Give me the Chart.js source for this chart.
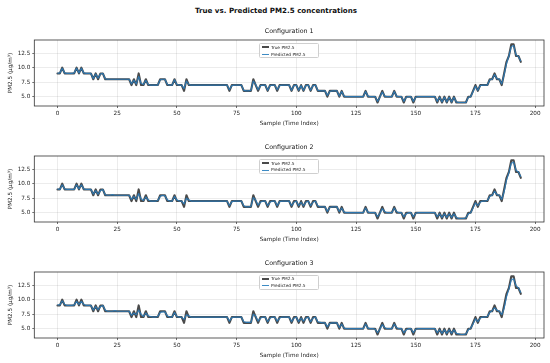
<!DOCTYPE html>
<html><head><meta charset="utf-8">
<script src="https://cdn.jsdelivr.net/npm/chart.js@4.4.1/dist/chart.umd.min.js"></script>
<style>
html,body{margin:0;padding:0;background:#fff;}
body{width:550px;height:363px;position:relative;overflow:hidden;font-family:"DejaVu Sans",sans-serif;}
#sup{position:absolute;left:0;width:552px;top:5.5px;text-align:center;font-weight:bold;font-size:7.1px;line-height:9px;color:#111;white-space:nowrap;}
.panel{position:absolute;left:0;width:550px;height:106px;}
.panel canvas{position:absolute;left:0;top:0;}
.legend{position:absolute;left:259.3px;top:18px;width:60px;height:15px;border:0.6px solid #cfcfcf;border-radius:1.5px;background:rgba(255,255,255,0.85);box-sizing:border-box;font-size:4.3px;color:#222;}
.legend .row{position:absolute;left:0;height:5px;width:60px;}
.legend .h{position:absolute;left:2.2px;width:6.8px;top:2px;}
.legend .t{position:absolute;left:10.6px;top:0;line-height:5px;white-space:nowrap;}
</style>
</head><body>
<div id="sup">True vs. Predicted PM2.5 concentrations</div>
<script>
const mainTitle = 'True vs. Predicted PM2.5 concentrations';
const configNames = ['Configuration 1', 'Configuration 2', 'Configuration 3'];
const seriesNames = ['True PM2.5', 'Predicted PM2.5'];
const xTicks = [0, 25, 50, 75, 100, 125, 150, 175, 200];
const yTicks = [5.0, 7.5, 10.0, 12.5];
const xTitle = 'Sample (Time Index)';
const yTitle = 'PM2.5 (\u00b5g/m\u00b3)';

const trueVals = [
 9,9,10,9,9,9,9,9,10,9,
 10,9,9,9,9,8,9,8,9,9,
 8,8,8,8,8,8,8,8,8,8,
 8,7,8,7,9,7,7,8,7,7,
 7,7,7,8,8,8,7,7,7,8,
 7,7,7,6,8,7,7,7,7,7,
 7,7,7,7,7,7,7,7,7,7,
 7,7,6,7,7,7,7,7,6,6,
 6,6,8,7,6,7,7,7,6,7,
 7,7,6,7,7,7,7,7,6,7,
 7,6,7,6,7,7,6,7,7,6,
 6,6,6,5,6,6,6,6,5,6,
 5,5,5,5,5,5,5,5,5,6,
 5,5,5,5,4,5,6,5,5,5,
 5,6,5,5,5,4,5,5,5,4,
 5,5,5,5,5,5,5,5,5,4,
 5,4,5,4,5,4,5,4,4,4,
 4,4,5,5,6,7,6,7,7,7,
 7,8,8,9,8,8,7,9,11,12,
 14,14,12,12,11];

const pred1 = [
 9,9.1,9.9,9.1,9,9,9,9.1,9.9,9.1,
 9.9,9.1,9,9,9,8.1,8.9,8.2,8.9,9,
 8.1,8,8,8,8,8,8,8,8,8,
 8,7.2,7.8,7.2,8.5,7.3,7.1,7.8,7.1,7,
 7,7,7,7.9,8,8,7.1,7,7,7.9,
 7.1,7,7,6.4,7.7,7.1,7,7,7,7,
 7,7,7,7,7,7,7,7,7,7,
 7,7,6.2,6.9,7,7,7,7,6.1,6,
 6,6.1,7.7,7.1,6.2,6.9,7,7,6.1,6.9,
 7,7,6.2,6.9,7,7,7,7,6.1,6.9,
 7,6.1,6.9,6.1,6.9,7,6.1,6.9,7,6.1,
 6,6,6,5.2,5.9,6,6,6,5.1,5.9,
 5.1,5,5,5,5,5,5,5,5,5.9,
 5.1,5,5,5,4.2,4.9,5.8,5.1,5,5,
 5,5.9,5.1,5,5,4.2,4.9,5,5,4.2,
 4.9,5,5,5,5,5,5,5,5,4.2,
 4.9,4.1,4.9,4.1,4.9,4.1,4.9,4.1,4,4,
 4,4,4.9,5,5.9,6.8,6.1,6.9,7,7,
 7,7.9,8,8.8,8.1,8,7.2,8.8,10.7,12,
 13.6,13.8,12.2,11.9,11.1];

const pred2 = [
 9.1,9,9.8,9.1,9,9,9,9,9.8,9.1,
 9.8,9.1,9,9,9,8.2,8.8,8.2,8.8,9,
 8.1,8,8,8.1,8,8,8,8,8,8,
 8,7.3,7.8,7.3,8.3,7.4,7.1,7.7,7.2,7,
 7,7,7.1,7.8,8,7.9,7.2,7,7,7.8,
 7.2,7,7,6.5,7.5,7.2,7,7,7,7,
 7,7,7,7,7,7,7,7,7,7,
 7,7,6.2,6.9,7,7,7,7,6.2,6,
 6,6.1,7.6,7.2,6.3,6.8,7,7,6.2,6.8,
 7,7,6.2,6.9,7,7,7,7,6.2,6.8,
 7,6.2,6.8,6.2,6.8,7,6.2,6.8,7,6.2,
 6,6,6,5.2,5.9,6,6,6,5.2,5.8,
 5.1,5,5,5,5,5,5,5,5,5.8,
 5.1,5,5,5,4.3,4.9,5.7,5.2,5,5,
 5,5.8,5.2,5,5,4.3,4.8,5,5,4.3,
 4.9,5,5,5,5,5,5,5,5,4.3,
 4.8,4.2,4.8,4.2,4.8,4.2,4.8,4.2,4,4,
 4,4.1,4.8,5,5.8,6.7,6.2,6.8,7,7,
 7.1,7.8,8,8.7,8.1,8,7.3,8.6,10.6,11.9,
 13.5,13.7,12.3,12,11.2];

const pred3 = [
 9.1,9.1,9.8,9.2,9,9,9,9.1,9.7,9.2,
 9.7,9.2,9,9,9,8.2,8.8,8.3,8.8,9,
 8.2,8,8,8,8.1,8,8,8,8,8,
 8,7.3,7.7,7.4,8.2,7.5,7.1,7.7,7.2,7.1,
 7,7,7.1,7.8,7.9,7.9,7.2,7,7,7.8,
 7.1,7,7,6.6,7.4,7.2,7,7,7,7,
 7,7,7,7,7,7,7,7,7,7,
 7,7,6.3,6.9,7,7,7,7,6.2,6.1,
 6.1,6.1,7.5,7.2,6.3,6.8,7,7,6.2,6.8,
 7,7,6.3,6.8,7,7,7,7,6.2,6.8,
 7,6.2,6.8,6.3,6.8,7,6.2,6.8,7,6.2,
 6.1,6,6,5.3,5.9,6,6,6,5.2,5.8,
 5.1,5,5,5,5,5,5,5,5,5.8,
 5.1,5,5,4.9,4.3,4.9,5.7,5.2,5,5,
 5,5.8,5.2,5,5,4.3,4.8,5,5,4.3,
 4.9,5,5,5,5,5,5,5,5,4.3,
 4.8,4.2,4.8,4.2,4.8,4.2,4.8,4.2,4.1,4,
 4,4.1,4.8,5.1,5.8,6.7,6.2,6.8,7,7,
 7.1,7.8,8.1,8.6,8.2,8,7.4,8.5,10.5,11.8,
 13.4,13.6,12.4,12,11.2];

const predSets = [pred1, pred2, pred3];
const panelTops = [25, 140.85, 256.7];

const FONT = 'DejaVu Sans';
const framePlugin = {
  id: 'frame',
  afterDatasetsDraw(chart) {
    const {ctx, chartArea: a} = chart;
    ctx.save();
    ctx.strokeStyle = '#333';
    ctx.lineWidth = 0.8;
    ctx.strokeRect(a.left, a.top, a.right - a.left, a.bottom - a.top);
    ctx.restore();
  }
};

function toPoints(vals) { return vals.map((v, i) => ({x: i, y: v})); }

configNames.forEach((name, k) => {
  const panel = document.createElement('div');
  panel.className = 'panel';
  panel.style.top = panelTops[k] + 'px';
  const cv = document.createElement('canvas');
  cv.width = 550; cv.height = 106;
  panel.appendChild(cv);
  const lg = document.createElement('div');
  lg.className = 'legend';
  lg.innerHTML =
    '<div class="row" style="top:0.8px"><div class="h" style="height:1.6px;top:1.7px;background:#4a4a4a"></div><div class="t">' + seriesNames[0] + '</div></div>' +
    '<div class="row" style="top:7.6px"><div class="h" style="height:0.9px;top:2.1px;background:#3d8bc4"></div><div class="t">' + seriesNames[1] + '</div></div>';
  panel.appendChild(lg);
  document.body.appendChild(panel);

  new Chart(cv, {
    type: 'line',
    data: {
      datasets: [
        { label: seriesNames[0], data: toPoints(trueVals), borderColor: '#4a4a4a', borderWidth: 2.1,
          pointRadius: 0, tension: 0, borderJoinStyle: 'round', borderCapStyle: 'round', order: 2 },
        { label: seriesNames[1], data: toPoints(predSets[k]), borderColor: 'rgba(40,125,190,0.85)', borderWidth: 1.2,
          pointRadius: 0, tension: 0, borderJoinStyle: 'round', order: 1 }
      ]
    },
    options: {
      responsive: false, animation: false, devicePixelRatio: 1,
      layout: { padding: { top: 0, left: 0, right: 6, bottom: 0 } },
      plugins: {
        legend: { display: false },
        tooltip: { enabled: false },
        title: { display: true, text: name, fullSize: false, color: '#111',
          font: { family: FONT, size: 6.3, weight: 'normal' }, padding: { top: 2.7, bottom: 4.74 } }
      },
      scales: {
        x: {
          type: 'linear', min: -9.7, max: 203.7,
          afterBuildTicks: s => { s.ticks = xTicks.map(v => ({ value: v })); },
          afterFit: s => { s.height = 25; },
          border: { display: false },
          grid: { color: 'rgba(0,0,0,0.13)', lineWidth: 0.6, borderDash: [2, 2], tickColor: '#333',
            tickLength: 2, tickWidth: 0.7, tickBorderDash: [] },
          ticks: { font: { family: FONT, size: 5.7 }, color: '#222', padding: 2, maxRotation: 0, autoSkip: false,
            callback: v => String(v) },
          title: { display: true, text: xTitle, color: '#222', font: { family: FONT, size: 5.7 },
            padding: { top: 0, bottom: 4.1 } }
        },
        y: {
          min: 3.4, max: 14.75,
          afterBuildTicks: s => { s.ticks = yTicks.map(v => ({ value: v })); },
          afterFit: s => { s.width = 34.3; },
          border: { display: false },
          grid: { color: 'rgba(0,0,0,0.13)', lineWidth: 0.6, borderDash: [2, 2], tickColor: '#333',
            tickLength: 2, tickWidth: 0.7, tickBorderDash: [] },
          ticks: { font: { family: FONT, size: 5.7 }, color: '#222', padding: 2,
            callback: v => Number(v).toFixed(1) },
          title: { display: true, text: yTitle, color: '#222', font: { family: FONT, size: 5.7 },
            padding: { top: 7.6, bottom: 0 } }
        }
      }
    },
    plugins: [framePlugin]
  });
});
</script>
</body></html>
